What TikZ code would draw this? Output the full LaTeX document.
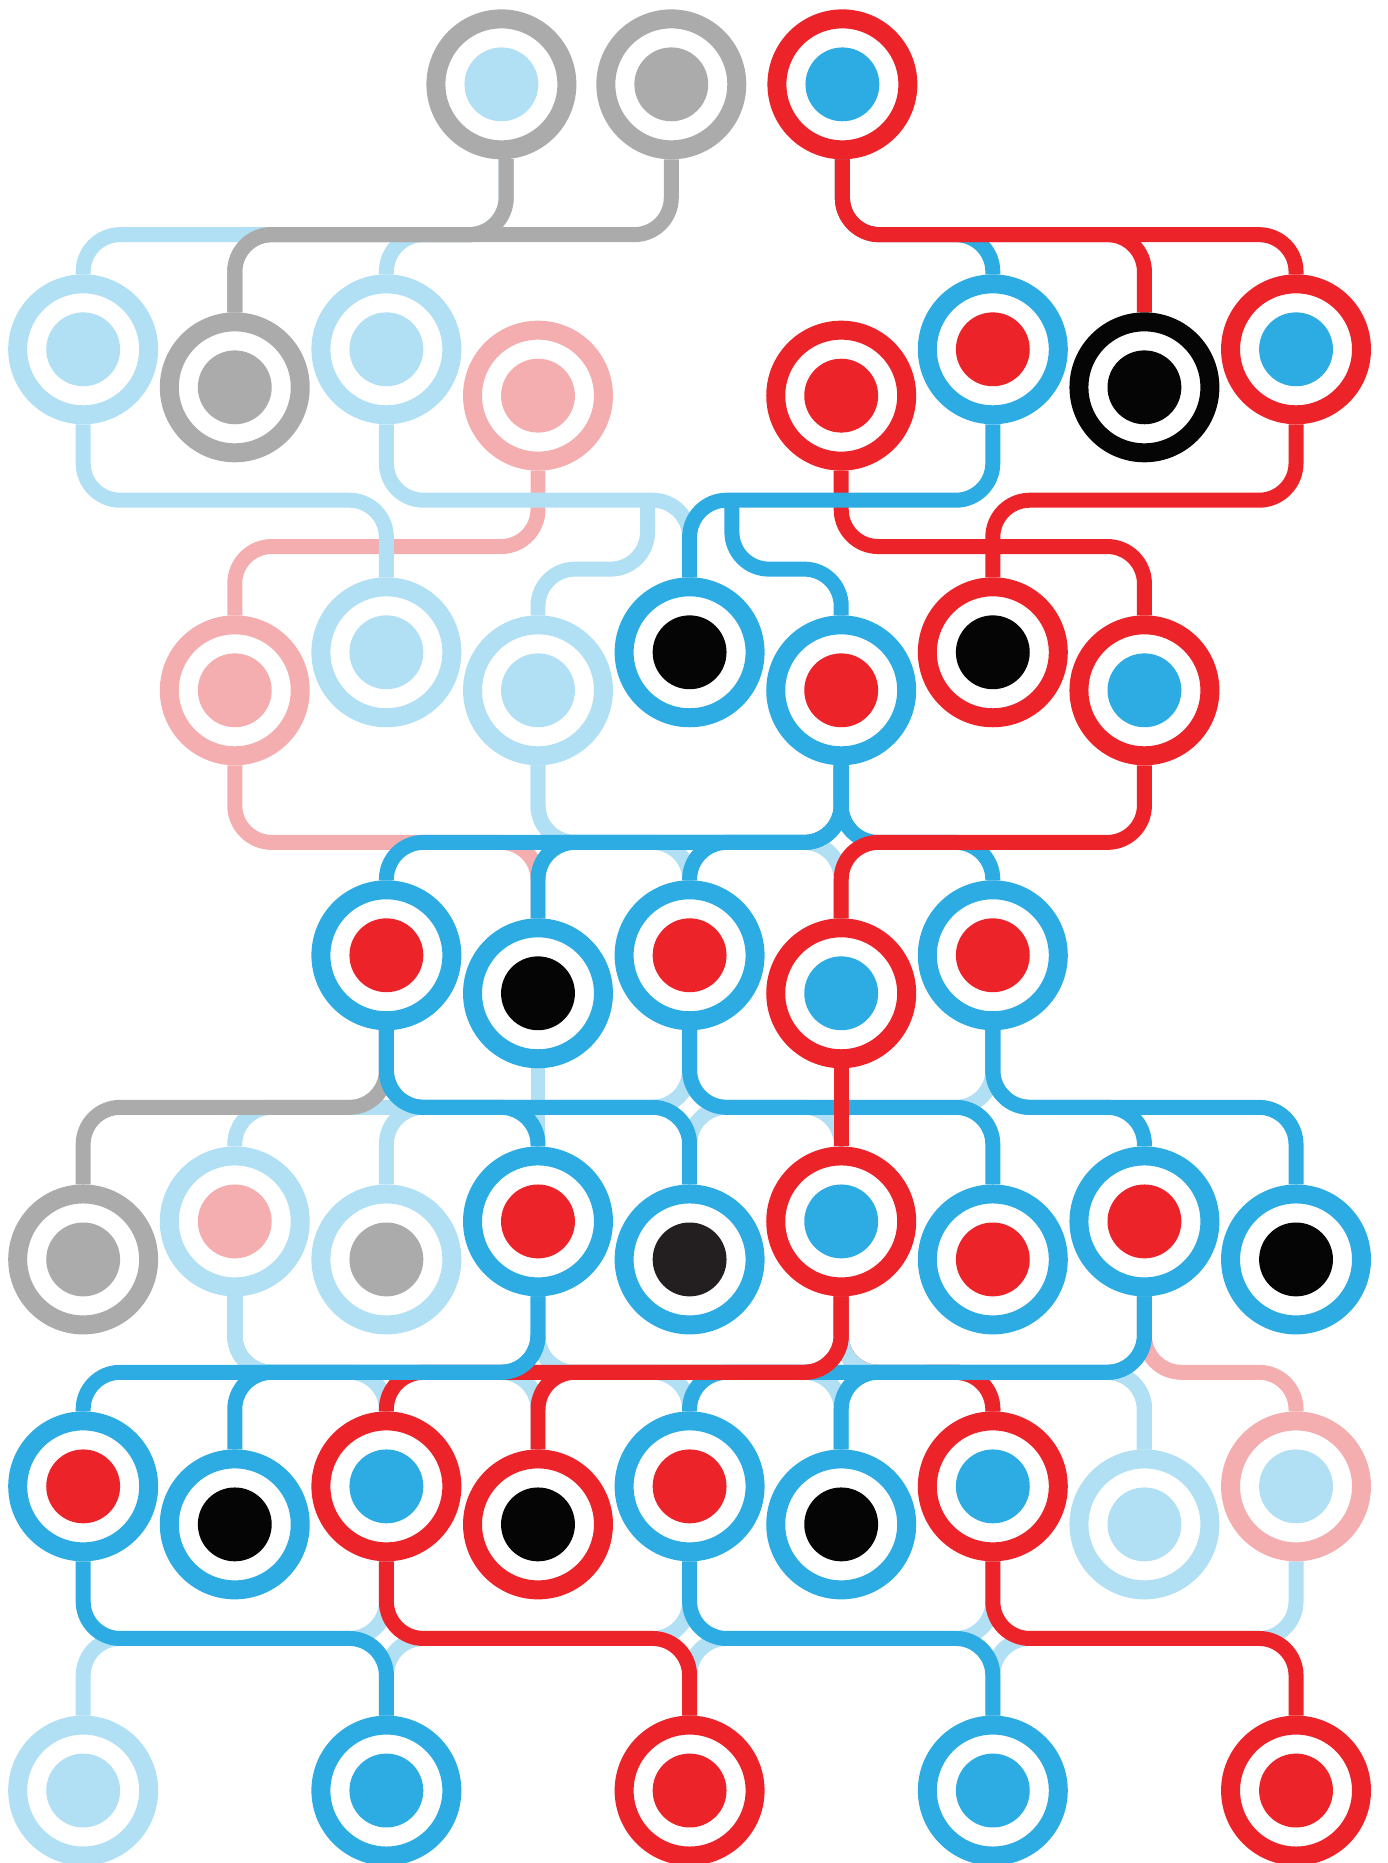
\documentclass[tikz,border=0pt]{standalone}
\usepackage{xcolor}
\usepackage{tikz}
\usetikzlibrary{backgrounds,positioning}

\definecolor{kred}{HTML}{EC2329}
\definecolor{kblue}{HTML}{2DACE3}
\definecolor{klight}{HTML}{B1E0F4}
\definecolor{kgray}{HTML}{ABABAB}
\definecolor{kpink}{HTML}{F5AEAF}
\definecolor{kblack}{HTML}{050505}
\definecolor{kdark}{HTML}{231F20}

\tikzset{
  member/.style 2 args={circle, draw=#1, fill=white, line width=0.38cm,
    minimum size=2.62cm, inner sep=0pt,
    path picture={\fill[#2] (path picture bounding box.center) circle (0.739cm);}},
  tie/.style={draw=#1, line width=0.30cm, rounded corners=0.74cm}
}
% parent -> bus at height #3 -> child
\newcommand{\famline}[4]{\draw[tie=#1] (#2) |- (#4.north |- 0,#3) -- (#4.north);}

\begin{document}
\begin{tikzpicture}[x=0.023768cm, y=-0.023768cm, line join=round]
  \useasboundingbox (0,0) rectangle (1168,1568);
  % top generation
  \node[member={kgray}{klight}] (T1) at (422,71) {};
  \node[member={kgray}{kgray}] (T2) at (565,71) {};
  \node[member={kred}{kblue}] (T3) at (709,71) {};
  % generation 1
  \node[member={klight}{klight}] (a1) at (70,294) {};
  \node[member={kgray}{kgray}] (a2) at (197.6,326) {};
  \node[member={klight}{klight}] (a3) at (325.2,294) {};
  \node[member={kpink}{kpink}] (a4) at (452.8,333) {};
  \node[member={kred}{kred}] (a5) at (708,333) {};
  \node[member={kblue}{kred}] (a6) at (835.6,294) {};
  \node[member={kblack}{kblack}] (a7) at (963.2,326) {};
  \node[member={kred}{kblue}] (a8) at (1090.8,294) {};
  % generation 2
  \node[member={kpink}{kpink}] (b1) at (197.6,581) {};
  \node[member={klight}{klight}] (b2) at (325.2,549) {};
  \node[member={klight}{klight}] (b3) at (452.8,581) {};
  \node[member={kblue}{kblack}] (b4) at (580.4,549) {};
  \node[member={kblue}{kred}] (b5) at (708,581) {};
  \node[member={kred}{kblack}] (b6) at (835.6,549) {};
  \node[member={kred}{kblue}] (b7) at (963.2,581) {};
  % generation 3
  \node[member={kblue}{kred}] (c1) at (325.2,804) {};
  \node[member={kblue}{kblack}] (c2) at (452.8,836) {};
  \node[member={kblue}{kred}] (c3) at (580.4,804) {};
  \node[member={kred}{kblue}] (c4) at (708,836) {};
  \node[member={kblue}{kred}] (c5) at (835.6,804) {};
  % generation 4
  \node[member={kgray}{kgray}] (d1) at (70,1060) {};
  \node[member={klight}{kpink}] (d2) at (197.6,1028) {};
  \node[member={klight}{kgray}] (d3) at (325.2,1060) {};
  \node[member={kblue}{kred}] (d4) at (452.8,1028) {};
  \node[member={kblue}{kdark}] (d5) at (580.4,1060) {};
  \node[member={kred}{kblue}] (d6) at (708,1028) {};
  \node[member={kblue}{kred}] (d7) at (835.6,1060) {};
  \node[member={kblue}{kred}] (d8) at (963.2,1028) {};
  \node[member={kblue}{kblack}] (d9) at (1090.8,1060) {};
  % generation 5
  \node[member={kblue}{kred}] (e1) at (70,1251) {};
  \node[member={kblue}{kblack}] (e2) at (197.6,1283) {};
  \node[member={kred}{kblue}] (e3) at (325.2,1251) {};
  \node[member={kred}{kblack}] (e4) at (452.8,1283) {};
  \node[member={kblue}{kred}] (e5) at (580.4,1251) {};
  \node[member={kblue}{kblack}] (e6) at (708,1283) {};
  \node[member={kred}{kblue}] (e7) at (835.6,1251) {};
  \node[member={klight}{klight}] (e8) at (963.2,1283) {};
  \node[member={kpink}{klight}] (e9) at (1090.8,1251) {};
  % generation 6
  \node[member={klight}{klight}] (f1) at (70,1507) {};
  \node[member={kblue}{kblue}] (f2) at (325.2,1507) {};
  \node[member={kred}{kred}] (f3) at (580.4,1507) {};
  \node[member={kblue}{kblue}] (f4) at (835.6,1507) {};
  \node[member={kred}{kred}] (f5) at (1090.8,1507) {};

  \coordinate (t1out) at (426,134);
  \coordinate (lbjog) at (545,421);
  \coordinate (bjog) at (616,421);
  \coordinate (rjoin) at (780,1155);

  \begin{scope}[on background layer]
    % top -> generation 1
    \famline{klight}{t1out}{197.5}{a1}
    \famline{klight}{t1out}{197.5}{a3}
    \famline{kgray}{t1out}{197.5}{a2}
    \famline{kgray}{T2.south}{197.5}{a2}
    \famline{kblue}{T3.south}{197.5}{a6}
    \famline{kred}{T3.south}{197.5}{a7}
    \famline{kred}{T3.south}{197.5}{a8}
    % generation 1 -> 2
    \famline{kpink}{a4.south}{460}{b1}
    \famline{klight}{a1.south}{421}{b2}
    \famline{klight}{a3.south}{421}{b4}
    \draw[tie=klight] (lbjog) |- (b3.north |- 0,479) -- (b3.north);
    \famline{kred}{a5.south}{460}{b7}
    \famline{kred}{a8.south}{421}{b6}
    \famline{kblue}{a6.south}{421}{b4}
    \draw[tie=kblue] (bjog) |- (b5.north |- 0,479) -- (b5.north);
    % generation 2 -> 3
    \famline{klight}{b3.south}{709}{c3}
    \famline{klight}{b3.south}{709}{c4}
    \famline{kpink}{b1.south}{709}{c2}
    \famline{kblue}{b5.south}{709}{c1}
    \famline{kblue}{b5.south}{709}{c2}
    \famline{kblue}{b5.south}{709}{c3}
    \famline{kblue}{b5.south}{709}{c5}
    \famline{kred}{b7.south}{709}{c4}
    % generation 3 -> 4
    \draw[tie=klight] (c2.south) -- (d4.north);
    \famline{klight}{c3.south}{932}{d2}
    \famline{klight}{c3.south}{932}{d3}
    \famline{klight}{c3.south}{932}{d6}
    \famline{klight}{c5.south}{932}{d5}
    \famline{kgray}{c1.south}{932}{d1}
    \famline{kblue}{c1.south}{932}{d4}
    \famline{kblue}{c1.south}{932}{d5}
    \famline{kblue}{c3.south}{932}{d7}
    \famline{kblue}{c5.south}{932}{d8}
    \famline{kblue}{c5.south}{932}{d9}
    \draw[tie=kred] (c4.south) -- (d6.north);
    % generation 4 -> 5
    \famline{kred}{d6.south}{1155}{e7}
    \famline{klight}{d2.south}{1155}{e3}
    \famline{klight}{d2.south}{1155}{e4}
    \famline{klight}{d2.south}{1155}{e5}
    \famline{klight}{d2.south}{1155}{e6}
    \famline{klight}{d2.south}{1155}{e7}
    \famline{klight}{d2.south}{1155}{e8}
    \famline{klight}{d4.south}{1155}{e8}
    \famline{klight}{d6.south}{1155}{e8}
    \famline{kpink}{d8.south}{1155}{e9}
    \draw[tie=kred] (rjoin) -| (e7.north);
    \famline{kblue}{d8.south}{1155}{e5}
    \famline{kblue}{d8.south}{1155}{e6}
    \famline{kred}{d6.south}{1155}{e3}
    \famline{kred}{d6.south}{1155}{e4}
    \famline{kblue}{d4.south}{1155}{e1}
    \famline{kblue}{d4.south}{1155}{e2}
    % generation 5 -> 6
    \famline{klight}{e3.south}{1379}{f1}
    \famline{klight}{e5.south}{1379}{f2}
    \famline{klight}{e7.south}{1379}{f3}
    \famline{klight}{e9.south}{1379}{f4}
    \famline{kblue}{e1.south}{1379}{f2}
    \famline{kred}{e3.south}{1379}{f3}
    \famline{kblue}{e5.south}{1379}{f4}
    \famline{kred}{e7.south}{1379}{f5}
  \end{scope}
\end{tikzpicture}
\end{document}
